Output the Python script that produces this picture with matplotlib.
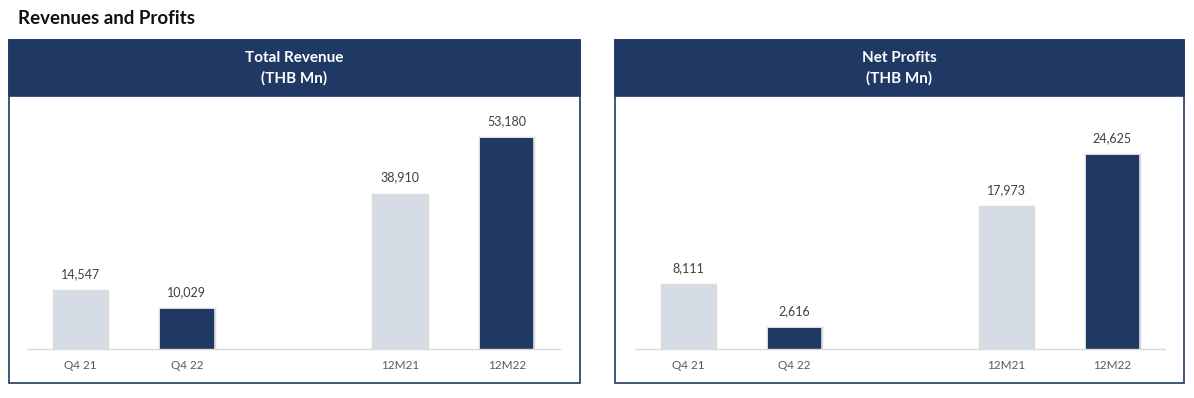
import matplotlib.pyplot as plt
import matplotlib.patheffects as pe
from matplotlib.patches import Rectangle

# data
categories = ["Q4 21", "Q4 22", "12M21", "12M22"]
positions = [0, 1, 3, 4]
revenue = [14547, 10029, 38910, 53180]
profits = [8111, 2616, 17973, 24625]

NAVY = "#203864"
LIGHT = "#d6dce5"
bar_colors = [LIGHT, NAVY, LIGHT, NAVY]

W, H = 1194, 398
plt.rcParams["font.family"] = ["Lato", "DejaVu Sans"]

fig = plt.figure(figsize=(W / 100, H / 100), dpi=100)


def fx(px):
    return px / W


def fy(py):
    return 1 - py / H


fig.text(fx(18), fy(18), "Revenues and Profits", fontsize=13.5, fontweight="bold",
         color="#111111", ha="left", va="center")


def panel(x0, x1, ax_x0, ax_x1, title, values, ymax):
    top, bottom, head = 40, 383, 96
    # outer border
    fig.add_artist(Rectangle((fx(x0), fy(bottom)), fx(x1 - x0), (bottom - top) / H,
                             transform=fig.transFigure, facecolor="white",
                             edgecolor=NAVY, linewidth=1.2, zorder=0))
    # header
    fig.add_artist(Rectangle((fx(x0), fy(head)), fx(x1 - x0), (head - top) / H,
                             transform=fig.transFigure, facecolor=NAVY,
                             edgecolor=NAVY, linewidth=1.2, zorder=1))
    cx = fx((x0 + x1) / 2)
    fig.text(cx, fy(58), title, color="white", fontsize=11, fontweight="bold",
             ha="center", va="center")
    fig.text(cx, fy(78), "(THB Mn)", color="white", fontsize=11, fontweight="bold",
             ha="center", va="center")

    ax_top, ax_bot = 105, 349
    ax = fig.add_axes([fx(ax_x0), fy(ax_bot), fx(ax_x1 - ax_x0), (ax_bot - ax_top) / H])
    ax.set_facecolor("none")
    bars = ax.bar(positions, values, width=0.5, color=bar_colors, zorder=3)
    for b in bars:
        b.set_path_effects([pe.withStroke(linewidth=2.5, foreground="#8c8c8c", alpha=0.3),
                            pe.Normal()])
    for p, v in zip(positions, values):
        ax.annotate(f"{v:,}", (p, v), xytext=(0, 8), textcoords="offset points",
                    ha="center", va="bottom", fontsize=9, color="#404040")
    ax.set_xlim(-0.5, 4.5)
    ax.set_ylim(0, ymax)
    ax.set_xticks(positions)
    ax.set_xticklabels(categories, fontsize=8.5, color="#595959")
    ax.tick_params(axis="x", length=0, pad=8)
    ax.set_yticks([])
    for s in ["top", "right", "left"]:
        ax.spines[s].set_visible(False)
    ax.spines["bottom"].set_color("#d9d9d9")
    ax.spines["bottom"].set_linewidth(1)
    ax.spines["bottom"].set_zorder(4)
    return ax


panel(9, 580, 27, 560, "Total Revenue", revenue, 53180 * 244 / 211)
panel(615, 1184, 635, 1165, "Net Profits", profits, 24625 * 244 / 194)

fig.savefig("out.png", dpi=100)
